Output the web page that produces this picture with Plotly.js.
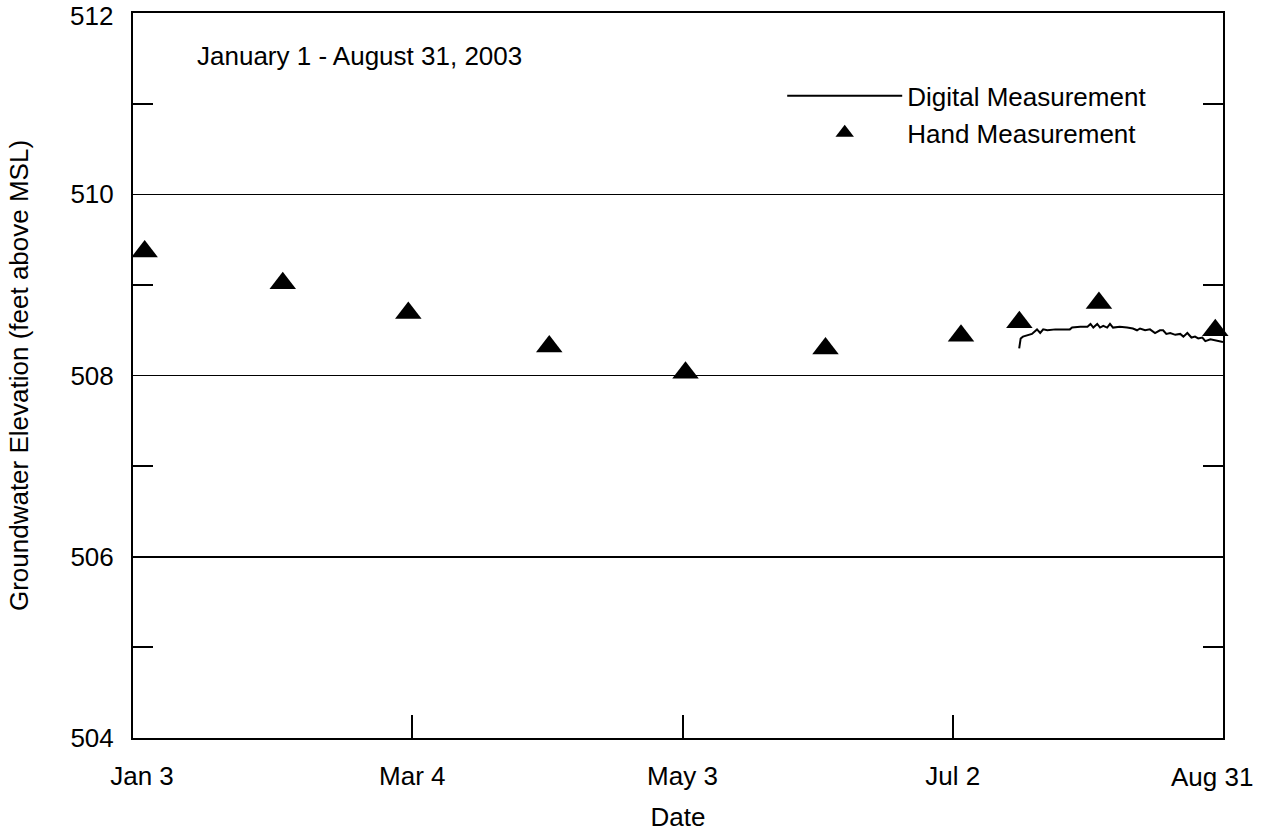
<!DOCTYPE html>
<html>
<head>
<meta charset="utf-8">
<script src="https://cdn.plot.ly/plotly-3.0.1.min.js"></script>
<style>html,body{margin:0;padding:0;background:#fff;}#chart{width:1261px;height:832px;}</style>
</head>
<body>
<div id="chart"></div>
<script>
// ---- Data ----
const handDates = ["2003-01-03 14:00","2003-02-03 06:00","2003-03-03 03:00","2003-04-03 10:00","2003-05-03 16:00","2003-06-03 18:00","2003-07-03 20:00","2003-07-16 19:00","2003-08-03 11:00","2003-08-29 07:00"];
const handElev  = [509.37, 509.02, 508.69, 508.32, 508.03, 508.30, 508.44, 508.59, 508.80, 508.50];

const digitalDates = ["2003-07-16 18:00","2003-07-17 02:00","2003-07-17 14:00","2003-07-18 17:00","2003-07-19 14:00","2003-07-20 17:00","2003-07-21 10:00","2003-07-22 02:00","2003-07-23 00:00","2003-07-24 19:00","2003-07-26 12:00","2003-07-28 00:00","2003-07-28 12:00","2003-07-30 07:00","2003-07-31 22:00","2003-08-01 14:00","2003-08-02 05:00","2003-08-03 02:00","2003-08-03 17:00","2003-08-04 10:00","2003-08-05 07:00","2003-08-05 22:00","2003-08-06 14:00","2003-08-08 02:00","2003-08-09 17:00","2003-08-11 00:00","2003-08-11 22:00","2003-08-12 14:00","2003-08-13 17:00","2003-08-14 19:00","2003-08-15 22:00","2003-08-17 00:00","2003-08-17 17:00","2003-08-18 10:00","2003-08-19 07:00","2003-08-20 10:00","2003-08-21 12:00","2003-08-22 05:00","2003-08-23 02:00","2003-08-24 00:00","2003-08-24 19:00","2003-08-25 12:00","2003-08-26 10:00","2003-08-27 02:00","2003-08-28 05:00","2003-08-31 00:00"];
const digitalElev  = [508.30, 508.41, 508.43, 508.45, 508.46, 508.51, 508.47, 508.51, 508.50, 508.51, 508.51, 508.51, 508.53, 508.54, 508.54, 508.57, 508.53, 508.57, 508.53, 508.55, 508.53, 508.57, 508.53, 508.54, 508.53, 508.52, 508.50, 508.52, 508.50, 508.51, 508.47, 508.50, 508.50, 508.46, 508.47, 508.45, 508.46, 508.43, 508.47, 508.42, 508.43, 508.41, 508.42, 508.38, 508.40, 508.37];

const xRange = ["2003-01-01 00:00","2003-08-31 00:05"];
const xTickVals = ["2003-01-03","2003-03-04","2003-05-03","2003-07-02"];
const xTickText = ["Jan 3","Mar 4","May 3","Jul 2"];
const xLastTickVal = "2003-08-31";
const xLastTickText = "Aug 31";
const xInnerTicks = ["2003-03-04","2003-05-03","2003-07-02"];
const yRange = [504, 512.002];
const yMajor = [504, 506, 508, 510];
const yTopTick = 512;
const yMinor = [505, 507, 509, 511];

const FONT = 'Arial, "Liberation Sans", sans-serif';

const traces = [
  {
    name: "Digital Measurement",
    x: digitalDates, y: digitalElev,
    type: "scatter", mode: "lines",
    line: {color: "black", width: 2},
    xaxis: "x", yaxis: "y"
  },
  {
    name: "Hand Measurement",
    x: handDates, y: handElev,
    type: "scatter", mode: "markers",
    marker: {symbol: "triangle-up", size: 23, color: "black"},
    cliponaxis: false,
    xaxis: "x2", yaxis: "y"
  }
];

const layout = {
  width: 1261, height: 832,
  margin: {l: 132.5, r: 38, t: 13, b: 94},
  paper_bgcolor: "white", plot_bgcolor: "white",
  font: {family: FONT, size: 26, color: "black"},
  showlegend: true,
  legend: {
    x: 0.5956, xanchor: "left", y: 0.918, yanchor: "top",
    bgcolor: "rgba(0,0,0,0)", itemwidth: 115,
    font: {family: FONT, size: 26, color: "black"}
  },
  xaxis: {
    type: "date", range: xRange,
    tickmode: "array", tickvals: xTickVals, ticktext: xTickText,
    ticks: "", ticklabelstandoff: 14, ticklabeloverflow: "allow",
    showline: true, mirror: true, linecolor: "black", linewidth: 2,
    showgrid: false, zeroline: false,
    title: {text: "Date", standoff: 26, font: {family: FONT, size: 26}}
  },
  xaxis2: {
    type: "date", range: xRange, overlaying: "x", side: "bottom", anchor: "y",
    tickmode: "array", tickvals: xInnerTicks,
    ticks: "inside", ticklen: 23, tickwidth: 2, tickcolor: "black",
    showticklabels: false, showline: false, showgrid: false, zeroline: false
  },
  yaxis: {
    range: yRange,
    tickmode: "array", tickvals: yMajor,
    ticks: "", ticklabelstandoff: 12, ticklabeloverflow: "allow",
    showline: true, mirror: "ticks", linecolor: "black", linewidth: 2,
    showgrid: true, gridcolor: "black", gridwidth: 1.5, zeroline: false,
    minor: {tickmode: "array", tickvals: yMinor, ticks: "inside", ticklen: 20, tickwidth: 2, tickcolor: "black", showgrid: false},
    title: {text: "Groundwater Elevation (feet above MSL)", standoff: 34, font: {family: FONT, size: 26}}
  },
  annotations: [
    {text: "January 1 - August 31, 2003", xref: "paper", yref: "paper",
     x: 0.0573, y: 0.941, xanchor: "left", yanchor: "middle", showarrow: false,
     font: {family: FONT, size: 26, color: "black"}},
    {text: xLastTickText, xref: "x", yref: "paper",
     x: xLastTickVal, y: 0, xanchor: "center", yanchor: "top", xshift: -11, yshift: -22,
     showarrow: false, font: {family: FONT, size: 26, color: "black"}},
    {text: String(yTopTick), xref: "paper", yref: "y",
     x: 0, y: yTopTick, xanchor: "right", yanchor: "top", xshift: -18, yshift: 14,
     showarrow: false, font: {family: FONT, size: 26, color: "black"}}
  ]
};

Plotly.newPlot("chart", traces, layout, {displayModeBar: false, staticPlot: true});
</script>
</body>
</html>
